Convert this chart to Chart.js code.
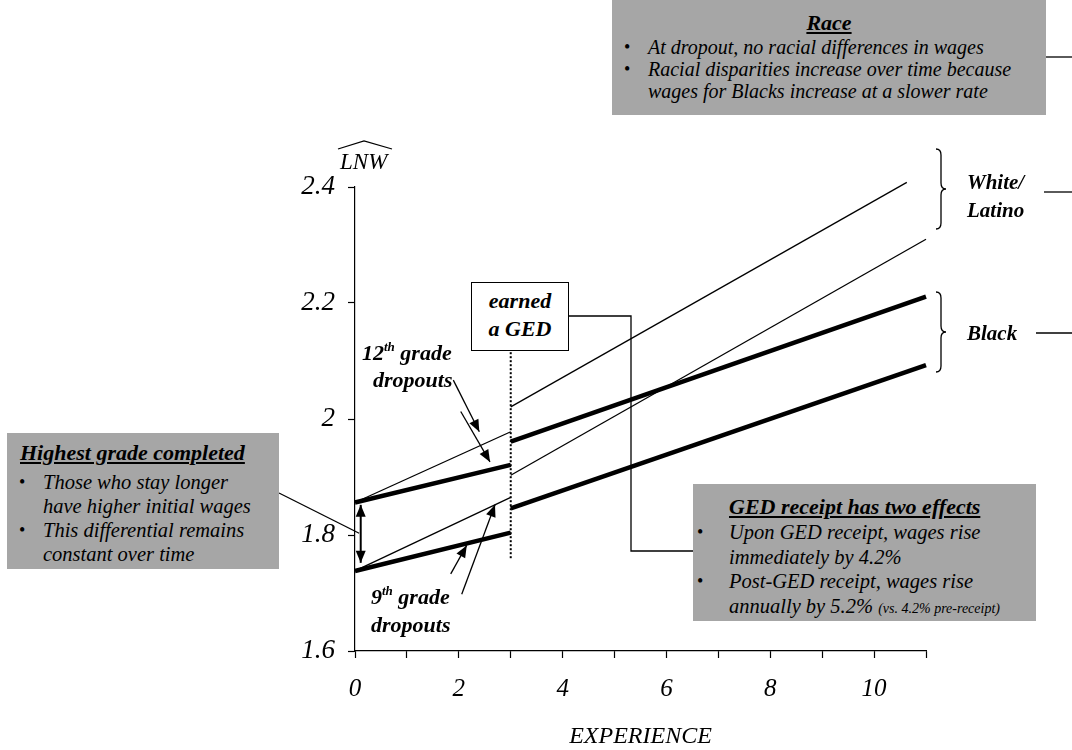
<!DOCTYPE html>
<html>
<head>
<meta charset="utf-8">
<script src="https://cdn.jsdelivr.net/npm/chart.js"></script>
<style>
  body { margin: 0; background: #fff; }
  #wrap { position: relative; width: 1072px; height: 750px; font-family: 'Liberation Serif', 'DejaVu Serif', serif; color: #000; }
  #wrap canvas { position: absolute; left: 0; top: 0; }
  .note { position: absolute; font-style: italic; }
  .grey { background: #a6a6a6; }
  .ttl { font-weight: bold; text-decoration: underline; font-size: 22px; line-height: 26px; }
  .item { position: relative; padding-left: 36px; font-size: 20.5px; line-height: 22px; }
  .item b { position: absolute; left: 12px; font-weight: normal; font-style: normal; font-size: 18px; }
  .lbl { position: absolute; font-style: italic; font-weight: bold; font-size: 22px; line-height: 28px; }
  sup { font-size: 13px; vertical-align: 9px; line-height: 0; }
  #err { position: absolute; left: 0; top: 700px; font: 12px monospace; color: red; }
</style>
</head>
<body>
<div id="wrap">
  <canvas id="gedChart" width="1072" height="750"></canvas>

  <div class="note grey" style="left:612px;top:0;width:434px;height:115px;">
    <div class="ttl" style="text-align:center;padding-top:10px;">Race</div>
    <div class="item" style="font-size:20px;"><b>•</b>At dropout, no racial differences in wages</div>
    <div class="item" style="font-size:20px;"><b>•</b>Racial disparities increase over time because<br>wages for Blacks increase at a slower rate</div>
  </div>

  <div class="note grey" style="left:7px;top:433px;width:272px;height:136px;">
    <div class="ttl" style="padding-left:13px;padding-top:7px;">Highest grade completed</div>
    <div class="item" style="line-height:24px;margin-top:4px;"><b>•</b>Those who stay longer<br>have higher initial wages</div>
    <div class="item" style="line-height:24px;"><b>•</b>This differential remains<br>constant over time</div>
  </div>

  <div class="note grey" style="left:693px;top:484px;width:343px;height:137px;">
    <div class="ttl" style="padding-left:36px;padding-top:10px;">GED receipt has two effects</div>
    <div class="item" style="line-height:24.5px;"><b style="left:4px;">•</b>Upon GED receipt, wages rise<br>immediately by 4.2%</div>
    <div class="item" style="line-height:24.5px;"><b style="left:4px;">•</b>Post-GED receipt, wages rise<br>annually by 5.2% <span style="font-size:14px;">(vs. 4.2% pre-receipt)</span></div>
  </div>

  <div class="lbl" style="left:471px;top:282px;width:98px;height:69px;border:1px solid #000;background:#fff;text-align:center;padding-top:4px;box-sizing:border-box;">earned<br>a GED</div>

  <div class="lbl" style="left:362px;top:339px;">12<sup>th</sup> grade</div>
  <div class="lbl" style="left:373px;top:366px;">dropouts</div>
  <div class="lbl" style="left:371px;top:583px;">9<sup>th</sup> grade</div>
  <div class="lbl" style="left:371px;top:611px;">dropouts</div>

  <div class="lbl" style="left:967px;top:168px;font-size:21px;">White/</div>
  <div class="lbl" style="left:967px;top:196px;font-size:21px;">Latino</div>
  <div class="lbl" style="left:967px;top:319px;font-size:21px;">Black</div>

  <div class="note" style="left:340px;top:148px;font-size:23px;line-height:28px;">LNW</div>
  <div id="err"></div>
</div>

<script>
window.onerror = function (m) { document.getElementById('err').textContent = String(m); };

// experience (years) at which each segment is drawn
const preGedX = [0, 3];
const postGedX = [3, 11];
const white12PostX = [3, 10.63];

// predicted log wages
const white12Pre = [1.856, 1.978];
const black12Pre = [1.856, 1.921];
const white9Pre = [1.738, 1.865];
const black9Pre = [1.738, 1.804];

const white12Post = [2.021, 2.408];
const white9Post = [1.903, 2.310];
const black12Post = [1.961, 2.211];
const black9Post = [1.846, 2.093];

// GED receipt marker
const gedX = [3, 3];
const gedY = [1.76, 2.117];

// axes
const xTickLabels = [0, 2, 4, 6, 8, 10];
const yTickLabels = [1.6, 1.8, 2, 2.2, 2.4];

const pts = (xs, ys) => xs.map((x, i) => ({ x: x, y: ys[i] }));
const serif = "'Liberation Serif', 'DejaVu Serif', serif";

function seg(data, width, dash) {
  return {
    data: data,
    borderColor: '#000',
    borderWidth: width,
    borderDash: dash || [],
    pointRadius: 0,
    tension: 0,
    clip: false,
    borderCapStyle: 'butt'
  };
}

function arrowHead(ctx, x1, y1, x2, y2) {
  const a = Math.atan2(y2 - y1, x2 - x1), len = 12, hw = 5;
  ctx.beginPath();
  ctx.moveTo(x2, y2);
  ctx.lineTo(x2 - len * Math.cos(a) + hw * Math.sin(a), y2 - len * Math.sin(a) - hw * Math.cos(a));
  ctx.lineTo(x2 - len * Math.cos(a) - hw * Math.sin(a), y2 - len * Math.sin(a) + hw * Math.cos(a));
  ctx.closePath();
  ctx.fill();
}

function arrow(ctx, x1, y1, x2, y2, both) {
  ctx.beginPath();
  ctx.moveTo(x1, y1);
  ctx.lineTo(x2, y2);
  ctx.stroke();
  arrowHead(ctx, x1, y1, x2, y2);
  if (both) arrowHead(ctx, x2, y2, x1, y1);
}

function polyline(ctx, p) {
  ctx.beginPath();
  ctx.moveTo(p[0][0], p[0][1]);
  for (let i = 1; i < p.length; i++) ctx.lineTo(p[i][0], p[i][1]);
  ctx.stroke();
}

function brace(ctx, x, y1, y2, w) {
  const ym = (y1 + y2) / 2, h = w / 2, r = 6;
  ctx.beginPath();
  ctx.moveTo(x, y1);
  ctx.quadraticCurveTo(x + h, y1, x + h, y1 + r);
  ctx.lineTo(x + h, ym - r);
  ctx.quadraticCurveTo(x + h, ym, x + w, ym);
  ctx.quadraticCurveTo(x + h, ym, x + h, ym + r);
  ctx.lineTo(x + h, y2 - r);
  ctx.quadraticCurveTo(x + h, y2, x, y2);
  ctx.stroke();
}

const overlay = {
  id: 'overlay',
  afterDraw(chart) {
    const c = chart.ctx;
    const X = v => chart.scales.x.getPixelForValue(v);
    const Y = v => chart.scales.y.getPixelForValue(v);
    c.save();
    c.strokeStyle = '#000';
    c.fillStyle = '#000';
    c.lineWidth = 1.3;

    // connectors from the notes
    polyline(c, [[279, 493], [X(0.08), Y(1.803)]]);
    polyline(c, [[569, 316], [631, 316], [631, 551], [693, 551]]);
    polyline(c, [[1046, 57], [1072, 57]]);
    polyline(c, [[1044, 192], [1072, 192]]);
    polyline(c, [[1036, 333], [1072, 333]]);

    brace(c, 936, 149, 229, 10);
    brace(c, 936, 292, 372, 10);

    // hat over LNW
    polyline(c, [[338, 149], [364, 141], [392, 149]]);

    // pointers from the dropout labels
    arrow(c, X(1.894), Y(2.067), X(2.395), Y(1.978));
    arrow(c, X(2.037), Y(2.013), X(2.601), Y(1.926));
    arrow(c, X(1.844), Y(1.733), X(2.152), Y(1.782));
    arrow(c, X(2.056), Y(1.698), X(2.697), Y(1.852));

    // gap between grades
    c.lineWidth = 2;
    arrow(c, X(0.11), Y(1.852), X(0.11), Y(1.752), true);
    c.restore();
  }
};

const ctx = document.getElementById('gedChart').getContext('2d');
const gedChart = new Chart(ctx, {
  type: 'line',
  data: {
    datasets: [
      seg(pts(preGedX, white12Pre), 1.3),
      seg(pts(preGedX, white9Pre), 1.3),
      seg(pts(preGedX, black12Pre), 4.5),
      seg(pts(preGedX, black9Pre), 4.5),
      seg(pts(white12PostX, white12Post), 1.3),
      seg(pts(postGedX, white9Post), 1.3),
      seg(pts(postGedX, black12Post), 4.5),
      seg(pts(postGedX, black9Post), 4.5),
      seg(pts(gedX, gedY), 2, [2, 2])
    ]
  },
  options: {
    responsive: false,
    animation: false,
    events: [],
    layout: { padding: { left: 0, right: 146, top: 187, bottom: 0 } },
    plugins: { legend: { display: false }, tooltip: { enabled: false } },
    scales: {
      x: {
        type: 'linear',
        min: 0,
        max: 11,
        ticks: {
          stepSize: 1,
          autoSkip: false,
          maxRotation: 0,
          padding: 16,
          color: '#000',
          font: { family: serif, style: 'italic', size: 25 },
          callback: v => xTickLabels.includes(v) ? String(v) : ''
        },
        grid: { drawOnChartArea: false, color: '#000', tickLength: 7, tickWidth: 1.2 },
        border: { color: '#000', width: 1.2 },
        title: {
          display: true,
          text: 'EXPERIENCE',
          color: '#000',
          font: { family: serif, style: 'italic', size: 24, lineHeight: 1.1 },
          padding: { top: 0, bottom: 0 }
        },
        afterFit: s => { s.height = 99; }
      },
      y: {
        min: 1.6,
        max: 2.4,
        afterBuildTicks: s => { s.ticks = yTickLabels.map(v => ({ value: v })); },
        ticks: {
          padding: 13,
          color: '#000',
          font: { family: serif, style: 'italic', size: 27 },
          callback: v => String(Math.round(v * 10) / 10)
        },
        grid: { drawOnChartArea: false, color: '#000', tickLength: 7, tickWidth: 1.2 },
        border: { color: '#000', width: 1.2 },
        afterFit: s => { s.width = 355; }
      }
    }
  },
  plugins: [overlay]
});
</script>
</body>
</html>
